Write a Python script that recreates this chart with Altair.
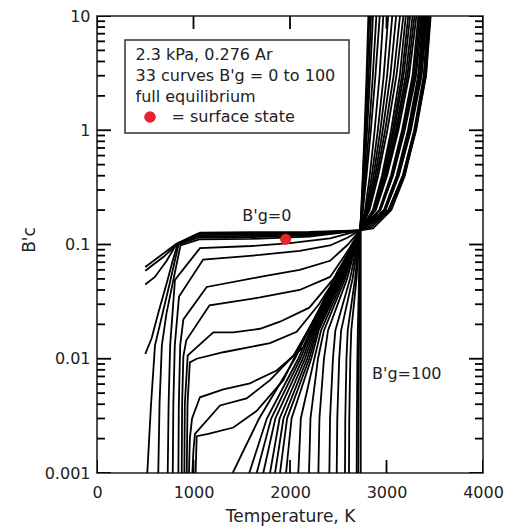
import altair as alt
import pandas as pd

# ---- curves with a low-temperature plateau (lowest B'g first) -------------
PLATEAU_T = [
    [500, 826, 1067, 1600, 2200, 2725, 2860],
    [500, 690, 826, 1040, 1600, 2200, 2725, 2845],
    [500, 600, 722, 815, 1030, 1600, 2200, 2725, 2830],
    [500, 566, 640, 720, 790, 835, 1040, 1600, 2200, 2725, 2815],
    [521, 560, 601, 680, 749, 845, 1050, 1600, 2200, 2725],
    [635, 648, 672, 720, 780, 865, 1060, 1600, 2200, 2725],
    [733, 742, 758, 808, 1067, 1600, 2000, 2415, 2725],
    [785, 791, 806, 850, 1100, 1689, 2100, 2415, 2600, 2725],
    [843, 848, 862, 895, 1137, 1689, 2100, 2415, 2600, 2725],
    [878, 882, 895, 925, 1166, 1689, 2100, 2415, 2600, 2725],
    [905, 910, 940, 1205, 1413, 1689, 1896, 2200, 2450, 2600, 2725],
    [930, 938, 962, 1033, 1309, 1793, 2069, 2300, 2500, 2625, 2725],
    [953, 962, 985, 1067, 1309, 1585, 1862, 2138, 2350, 2530, 2640, 2725],
    [988, 1000, 1015, 1275, 1550, 1793, 2034, 2250, 2450, 2600, 2725],
    [1022, 1033, 1153, 1413, 1655, 1931, 2150, 2350, 2500, 2640, 2725],
]
PLATEAU_B = [
    [0.0635, 0.102, 0.127, 0.128, 0.129, 0.133, 0.138],
    [0.059, 0.078, 0.1, 0.124, 0.125, 0.127, 0.133, 0.142],
    [0.0446, 0.052, 0.072, 0.098, 0.121, 0.122, 0.125, 0.133, 0.146],
    [0.011, 0.0151, 0.026, 0.045, 0.075, 0.1, 0.118, 0.119, 0.123, 0.133, 0.15],
    [0.001, 0.004, 0.0131, 0.025, 0.044, 0.1, 0.115, 0.116, 0.12, 0.133],
    [0.001, 0.004, 0.0131, 0.025, 0.044, 0.098, 0.111, 0.112, 0.117, 0.133],
    [0.001, 0.004, 0.0131, 0.049, 0.093, 0.097, 0.103, 0.113, 0.133],
    [0.001, 0.004, 0.0131, 0.035, 0.0738, 0.081, 0.088, 0.098, 0.115, 0.133],
    [0.001, 0.004, 0.0131, 0.0221, 0.0425, 0.052, 0.06, 0.072, 0.1, 0.133],
    [0.001, 0.004, 0.0105, 0.0145, 0.0294, 0.0344, 0.04, 0.052, 0.088, 0.133],
    [0.001, 0.004, 0.0107, 0.017, 0.017, 0.0183, 0.0211, 0.028, 0.05, 0.082, 0.133],
    [0.001, 0.004, 0.0093, 0.01, 0.0114, 0.0137, 0.0172, 0.03, 0.055, 0.088, 0.133],
    [0.001, 0.002, 0.003, 0.0046, 0.0054, 0.0061, 0.0079, 0.0126, 0.028, 0.058, 0.092, 0.133],
    [0.001, 0.0016, 0.0022, 0.0039, 0.0045, 0.0065, 0.0106, 0.022, 0.046, 0.08, 0.133],
    [0.001, 0.0021, 0.0022, 0.0025, 0.0035, 0.0065, 0.0155, 0.032, 0.06, 0.09, 0.133],
]

# ---- curves rising from the bottom of the scale into the knot -------------
FAN_B = [0.001, 0.003, 0.01, 0.0177, 0.05]
FAN_T = [
    [1406, 1680, 2050, 2195, 2458],
    [1578, 1760, 2085, 2212, 2475],
    [1655, 1805, 2108, 2226, 2486],
    [1723, 1848, 2132, 2240, 2497],
    [1793, 1892, 2155, 2254, 2508],
    [1845, 1932, 2178, 2268, 2518],
    [1896, 1970, 2199, 2282, 2528],
    [1959, 2016, 2220, 2297, 2539],
    [2086, 2112, 2252, 2322, 2554],
    [2197, 2212, 2290, 2352, 2570],
    [2294, 2305, 2352, 2394, 2591],
    [2408, 2415, 2445, 2470, 2622],
    [2484, 2490, 2510, 2530, 2648],
    [2570, 2573, 2585, 2598, 2674],
    [2611, 2614, 2625, 2635, 2689],
    [2691, 2693, 2698, 2703, 2715],
    [2708, 2710, 2713, 2716, 2722],
    [2733, 2733, 2733, 2733, 2733],
]
KNOT_T = [2725, 2725, 2725, 2725, 2725, 2725, 2725, 2725, 2725,
          2725, 2725, 2725, 2725, 2725, 2725, 2725, 2725, 2733]
KNOT_B = 0.133

# ---- sublimation branch above the knot (all 33 curves) --------------------
RISE_B = [0.2, 0.4, 1, 3, 10]
RISE_T = [
    [3050, 3190, 3300, 3410, 3458],
    [3030, 3183, 3307, 3408, 3452],
    [3028, 3179, 3302, 3403, 3446],
    [3025, 3175, 3297, 3397, 3440],
    [3023, 3172, 3292, 3391, 3434],
    [3020, 3168, 3287, 3386, 3428],
    [2989, 3128, 3253, 3364, 3420],
    [2985, 3122, 3246, 3355, 3410],
    [2982, 3117, 3238, 3346, 3400],
    [2978, 3111, 3230, 3337, 3390],
    [2974, 3105, 3223, 3328, 3380],
    [2938, 3067, 3189, 3306, 3370],
    [2935, 3062, 3182, 3297, 3360],
    [2930, 3054, 3171, 3283, 3345],
    [2925, 3046, 3161, 3270, 3330],
    [2889, 3006, 3123, 3234, 3310],
    [2883, 2996, 3109, 3217, 3290],
    [2878, 2987, 3096, 3199, 3270],
    [2871, 2975, 3079, 3177, 3245],
    [2865, 2965, 3065, 3160, 3225],
    [2858, 2953, 3048, 3138, 3200],
    [2824, 2914, 3009, 3103, 3175],
    [2816, 2899, 2986, 3074, 3140],
    [2808, 2883, 2961, 3040, 3100],
    [2799, 2866, 2936, 3006, 3060],
    [2789, 2848, 2910, 2971, 3018],
    [2778, 2827, 2877, 2928, 2967],
    [2756, 2793, 2838, 2885, 2930],
    [2751, 2781, 2819, 2858, 2895],
    [2745, 2770, 2799, 2830, 2860],
    [2742, 2763, 2788, 2815, 2840],
    [2740, 2757, 2778, 2801, 2822],
    [2738, 2754, 2773, 2793, 2812],
]

SURFACE_T = [1955]
SURFACE_B = [0.111]

X_TICKS = [0, 1000, 2000, 3000, 4000]
Y_TICKS = [0.001, 0.01, 0.1, 1, 10]
Y_MINOR = [0.002, 0.003, 0.004, 0.005, 0.006, 0.007, 0.008, 0.009,
           0.02, 0.03, 0.04, 0.05, 0.06, 0.07, 0.08, 0.09,
           0.2, 0.3, 0.4, 0.5, 0.6, 0.7, 0.8, 0.9,
           2, 3, 4, 5, 6, 7, 8, 9]

FONT = "DejaVu Sans"
INK = "#222222"
RED = "#e8232b"
W, H = 386, 457
X_MIN, X_MAX = 0, 4000
Y_MIN, Y_MAX = 0.001, 10
DECADES = 4

# ---- assemble one long table: curve id, vertex order, T, B'c --------------
rows = []
for i in range(len(PLATEAU_T)):
    pts = list(zip(PLATEAU_T[i], PLATEAU_B[i])) + list(zip(RISE_T[i], RISE_B))
    rows += [{"curve": f"c{i}", "k": k, "T": t, "B": b} for k, (t, b) in enumerate(pts)]
for j in range(len(FAN_T)):
    cid = len(PLATEAU_T) + j
    pts = (list(zip(FAN_T[j], FAN_B)) + [(KNOT_T[j], KNOT_B)]
           + list(zip(RISE_T[cid], RISE_B)))
    rows += [{"curve": f"c{cid}", "k": k, "T": t, "B": b} for k, (t, b) in enumerate(pts)]


# inward frame ticks as two-point segments; pixel lengths converted to data units
def add_y_ticks(values, px, right, tag):
    span = px * (X_MAX - X_MIN) / W
    x0, x1 = (X_MAX - span, X_MAX) if right else (X_MIN, X_MIN + span)
    for n, v in enumerate(values):
        rows.extend([{"curve": f"{tag}{n}", "k": 0, "T": x0, "B": v},
                     {"curve": f"{tag}{n}", "k": 1, "T": x1, "B": v}])


def add_x_ticks(values, px, top, tag):
    f = 10 ** (px * DECADES / H)
    b0, b1 = (Y_MAX / f, Y_MAX) if top else (Y_MIN, Y_MIN * f)
    for n, v in enumerate(values):
        rows.extend([{"curve": f"{tag}{n}", "k": 0, "T": v, "B": b0},
                     {"curve": f"{tag}{n}", "k": 1, "T": v, "B": b1}])


add_y_ticks(Y_TICKS, 14, False, "yl")
add_y_ticks(Y_MINOR, 8, False, "ml")
add_y_ticks(Y_TICKS, 14, True, "yr")
add_y_ticks(Y_MINOR, 8, True, "mr")
add_x_ticks(X_TICKS, 13, False, "xb")
add_x_ticks(X_TICKS, 13, True, "xt")
df = pd.DataFrame(rows)

xs = alt.Scale(domain=[X_MIN, X_MAX], nice=False, zero=False)
ys = alt.Scale(type="log", domain=[Y_MIN, Y_MAX], nice=False)


def label_axis(orient, values, pad, fmt):
    # labels only; tick marks are part of the segment table above
    return alt.Axis(orient=orient, values=values, ticks=False, tickSize=0,
                    domain=False, grid=False, labelPadding=pad, title=None,
                    labelFont=FONT, labelFontSize=16, labelColor=INK,
                    format=fmt, labelFlush=False)


curves = alt.Chart(df).mark_line(color="black", strokeWidth=1.8, clip=True).encode(
    x=alt.X("T:Q", scale=xs, axis=label_axis("bottom", X_TICKS, 11, "d")),
    y=alt.Y("B:Q", scale=ys, axis=label_axis("left", Y_TICKS, 7, "~g")),
    detail="curve:N",
    order="k:Q",
)

surface = alt.Chart(pd.DataFrame({"T": SURFACE_T, "B": SURFACE_B})).mark_circle(
    color=RED, opacity=1, size=120
).encode(x=alt.X("T:Q", scale=xs, axis=None), y=alt.Y("B:Q", scale=ys, axis=None))

one = pd.DataFrame({"a": [0]})


def label(text, x, y, align="left", angle=0, size=16):
    return alt.Chart(one).mark_text(
        text=text, align=align, baseline="middle", font=FONT, fontSize=size,
        color=INK, angle=angle
    ).encode(x=alt.value(x), y=alt.value(y))


def data_label(text, t, b, align):
    return alt.Chart(pd.DataFrame({"T": [t], "B": [b]})).mark_text(
        text=text, align=align, baseline="middle", font=FONT, fontSize=16, color=INK
    ).encode(x=alt.X("T:Q", scale=xs, axis=None), y=alt.Y("B:Q", scale=ys, axis=None))


box = alt.Chart(one).mark_rect(fill="white", stroke="#333333", strokeWidth=1.5).encode(
    x=alt.value(28), x2=alt.value(252), y=alt.value(24), y2=alt.value(117)
)
key_dot = alt.Chart(one).mark_circle(color=RED, opacity=1, size=135).encode(
    x=alt.value(53), y=alt.value(101)
)

chart = alt.layer(
    curves,
    box,
    label("2.3 kPa, 0.276 Ar", 38.5, 39),
    label("33 curves B'g = 0 to 100", 38.5, 60),
    label("full equilibrium", 38.5, 80.5),
    key_dot,
    label("= surface state", 74.5, 101),
    data_label("B'g=0", 1760, 0.176, "center"),
    data_label("B'g=100", 2850, 0.0074, "left"),
    surface,
    label("Temperature, K", 193.5, 500.5, "center", size=17),
    label("B'c", -67, 224, "center", angle=270, size=17),
).resolve_axis(
    x="independent", y="independent"
).properties(
    width=W, height=H,
    padding={"left": 97, "top": 16, "right": 29, "bottom": 55},
    autosize=alt.AutoSizeParams(type="none"),
).configure_view(
    stroke="#222222", strokeWidth=1.6
)

chart.save("out.html", embed_options={"renderer": "svg", "actions": False})
